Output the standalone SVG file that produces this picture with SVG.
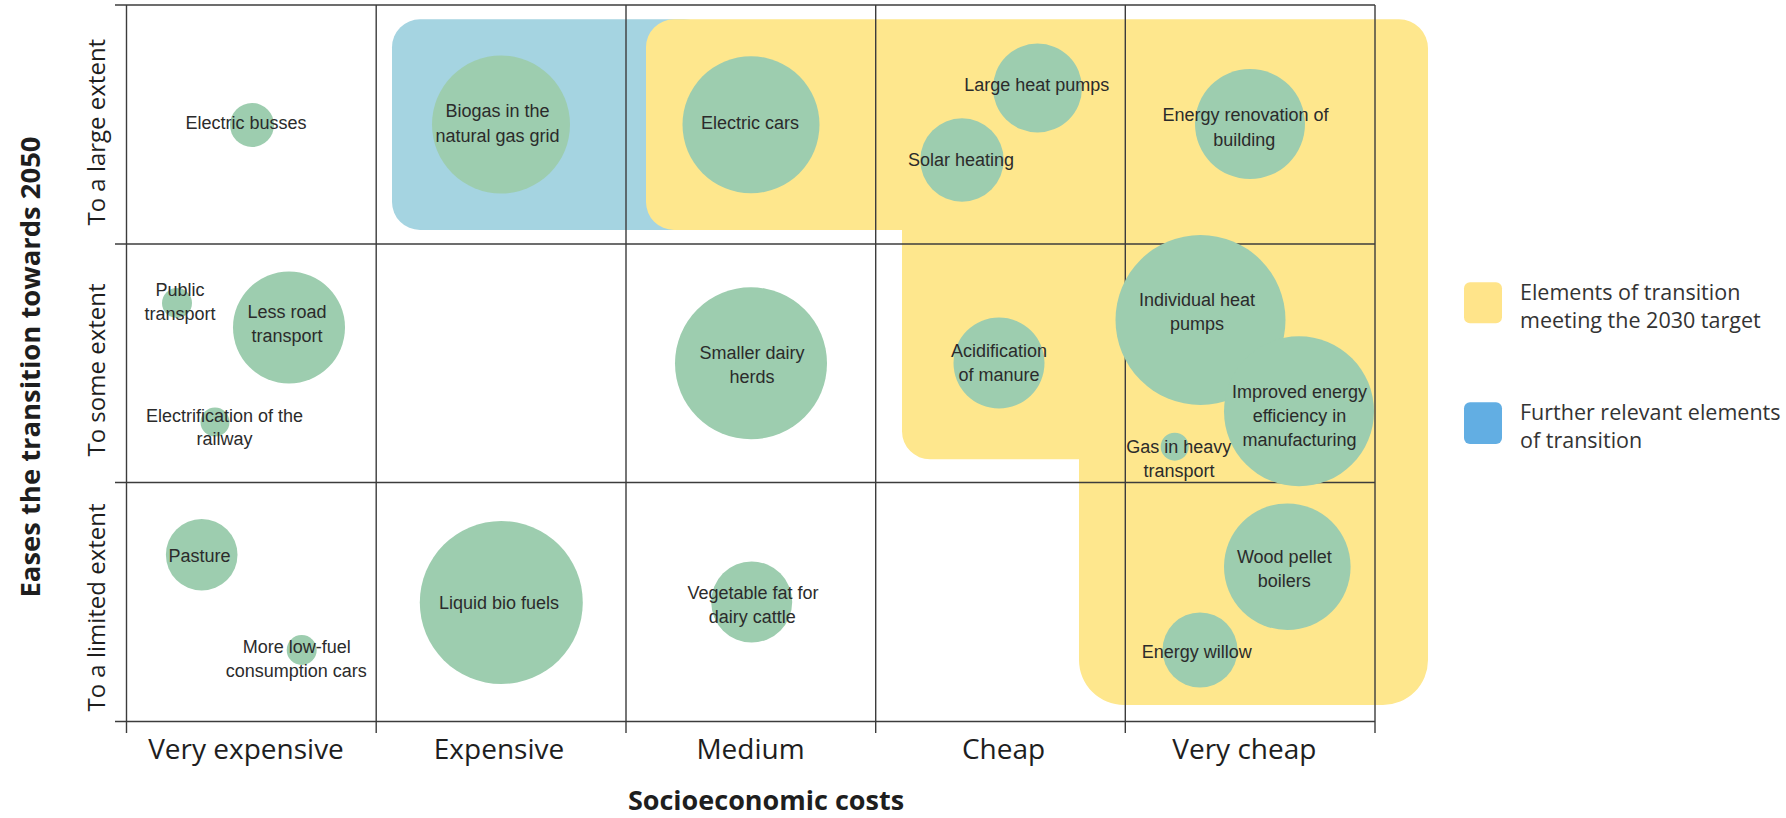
<svg xmlns="http://www.w3.org/2000/svg" width="1786" height="818" viewBox="0 0 1786 818">
<style>
.grid line{stroke:#3c3c3c;stroke-width:1.4}
.bub{fill:#9dcdaf}
.lbl{font-family:"Liberation Sans",Arial,sans-serif;font-size:18px;fill:#2b2b2b;text-anchor:middle}
.cat{font-family:"Open Sans",sans-serif;font-size:28px;fill:#1e1e1e;text-anchor:middle}
.ycat{font-family:"Open Sans",sans-serif;font-size:24px;fill:#1e1e1e;text-anchor:middle}
.title{font-family:"Open Sans",sans-serif;font-weight:700;font-size:27px;fill:#1e1e1e;text-anchor:middle}
.leg{font-family:"Open Sans",sans-serif;font-size:21.5px;fill:#333}
</style>
<rect width="1786" height="818" fill="#fff"/>
<g id="areas">
<rect id="blue-area" x="392" y="19.3" width="320" height="210.7" rx="28" fill="#a5d4e1"/>
<path id="yellow-area" d="M674,19.3 H1399 A29,29 0 0 1 1428,48.3 V660 A45,45 0 0 1 1383,705 H1124 A45,45 0 0 1 1079,660 V459.3 H930 A28,28 0 0 1 902,431.3 V230 H674 A28,28 0 0 1 646,202 V47.3 A28,28 0 0 1 674,19.3 Z" fill="#fee78d"/>
</g>
<g id="grid" class="grid">
<line x1="115" y1="5" x2="1375" y2="5"/>
<line x1="115" y1="244" x2="1375" y2="244"/>
<line x1="115" y1="482.5" x2="1375" y2="482.5"/>
<line x1="115" y1="721.5" x2="1375" y2="721.5"/>
<line x1="126.5" y1="5" x2="126.5" y2="733"/>
<line x1="376.2" y1="5" x2="376.2" y2="733"/>
<line x1="626" y1="5" x2="626" y2="733"/>
<line x1="875.7" y1="5" x2="875.7" y2="733"/>
<line x1="1125.3" y1="5" x2="1125.3" y2="733"/>
<line x1="1375" y1="5" x2="1375" y2="733"/>
</g>
<g id="nodes">
<g id="electric-busses"><circle class="bub" cx="252" cy="125" r="22"/><text class="lbl" x="246" y="129">Electric busses</text></g>
<g id="biogas"><circle class="bub" cx="501" cy="124.5" r="69"/><text class="lbl"><tspan x="497.5" y="117">Biogas in the</tspan><tspan x="497.5" y="142">natural gas grid</tspan></text></g>
<g id="electric-cars"><circle class="bub" cx="751" cy="124.7" r="68.5"/><text class="lbl" x="750" y="129">Electric cars</text></g>
<g id="large-heat-pumps"><circle class="bub" cx="1037.5" cy="88" r="44.5"/><text class="lbl" x="1036.7" y="90.7">Large heat pumps</text></g>
<g id="solar-heating"><circle class="bub" cx="962" cy="160" r="41.7"/><text class="lbl" x="961" y="166">Solar heating</text></g>
<g id="energy-renovation"><circle class="bub" cx="1250" cy="124" r="55"/><text class="lbl"><tspan x="1245.5" y="120.7">Energy renovation of</tspan><tspan x="1244.3" y="145.7">building</tspan></text></g>
<g id="public-transport"><circle class="bub" cx="177" cy="303" r="15"/><text class="lbl"><tspan x="180" y="296">Public</tspan><tspan x="180" y="320">transport</tspan></text></g>
<g id="less-road-transport"><circle class="bub" cx="289" cy="327.5" r="56"/><text class="lbl"><tspan x="287" y="318">Less road</tspan><tspan x="287" y="342">transport</tspan></text></g>
<g id="electrification-railway"><circle class="bub" cx="215" cy="422" r="14.5"/><text class="lbl"><tspan x="224.5" y="421.7">Electrification of the</tspan><tspan x="224.5" y="445">railway</tspan></text></g>
<g id="smaller-dairy-herds"><circle class="bub" cx="751" cy="363.3" r="76"/><text class="lbl"><tspan x="752" y="359.3">Smaller dairy</tspan><tspan x="752" y="382.7">herds</tspan></text></g>
<g id="acidification-manure"><circle class="bub" cx="999" cy="363" r="45.5"/><text class="lbl"><tspan x="999" y="357.3">Acidification</tspan><tspan x="999" y="381">of manure</tspan></text></g>
<g id="individual-heat-pumps"><circle class="bub" cx="1200.5" cy="320" r="85"/><text class="lbl"><tspan x="1197" y="305.7">Individual heat</tspan><tspan x="1197" y="330">pumps</tspan></text></g>
<g id="improved-energy-efficiency"><circle class="bub" cx="1299" cy="411.3" r="75"/><text class="lbl"><tspan x="1299.5" y="398.3">Improved energy</tspan><tspan x="1299.5" y="422">efficiency in</tspan><tspan x="1299.5" y="446">manufacturing</tspan></text></g>
<g id="gas-heavy-transport"><circle class="bub" cx="1174.7" cy="446.7" r="14"/><text class="lbl"><tspan x="1178.8" y="453.3">Gas in heavy</tspan><tspan x="1179" y="477.3">transport</tspan></text></g>
<g id="pasture"><circle class="bub" cx="201.7" cy="554.8" r="35.8"/><text class="lbl" x="199.5" y="562.3">Pasture</text></g>
<g id="low-fuel-cars"><circle class="bub" cx="301.7" cy="650" r="15"/><text class="lbl"><tspan x="296.7" y="652.7">More low-fuel</tspan><tspan x="296.3" y="676.7">consumption cars</tspan></text></g>
<g id="liquid-bio-fuels"><circle class="bub" cx="501.3" cy="602.5" r="81.5"/><text class="lbl" x="499" y="609.3">Liquid bio fuels</text></g>
<g id="vegetable-fat"><circle class="bub" cx="751.7" cy="602" r="40.5"/><text class="lbl"><tspan x="753" y="599.3">Vegetable fat for</tspan><tspan x="752.3" y="623.3">dairy cattle</tspan></text></g>
<g id="wood-pellet-boilers"><circle class="bub" cx="1287.3" cy="566.7" r="63.3"/><text class="lbl"><tspan x="1284.3" y="563.3">Wood pellet</tspan><tspan x="1284.3" y="587.3">boilers</tspan></text></g>
<g id="energy-willow"><circle class="bub" cx="1200" cy="650" r="37.5"/><text class="lbl" x="1196.7" y="657.7">Energy willow</text></g>
</g>
<g id="x-axis">
<text class="cat" x="246" y="759">Very expensive</text>
<text class="cat" x="499" y="759">Expensive</text>
<text class="cat" x="750.5" y="759">Medium</text>
<text class="cat" x="1003.5" y="759">Cheap</text>
<text class="cat" x="1244.3" y="759">Very cheap</text>
<text class="title" x="766" y="810">Socioeconomic costs</text>
</g>
<g id="y-axis">
<text class="ycat" transform="translate(104.5,132.2) rotate(-90)">To a large extent</text>
<text class="ycat" transform="translate(104.5,370) rotate(-90)">To some extent</text>
<text class="ycat" transform="translate(104.5,607.5) rotate(-90)">To a limited extent</text>
<text class="title" transform="translate(40,367) rotate(-90)" textLength="461" lengthAdjust="spacingAndGlyphs">Eases the transition towards 2050</text>
</g>
<g id="legend">
<rect x="1464" y="282.3" width="38" height="41" rx="6" fill="#ffe48a"/>
<text class="leg"><tspan x="1520" y="300">Elements of transition</tspan><tspan x="1520" y="328.3">meeting the 2030 target</tspan></text>
<rect x="1464" y="402.3" width="38" height="41.7" rx="6" fill="#62aee3"/>
<text class="leg"><tspan x="1520" y="420">Further relevant elements</tspan><tspan x="1520" y="448.3">of transition</tspan></text>
</g>
</svg>
